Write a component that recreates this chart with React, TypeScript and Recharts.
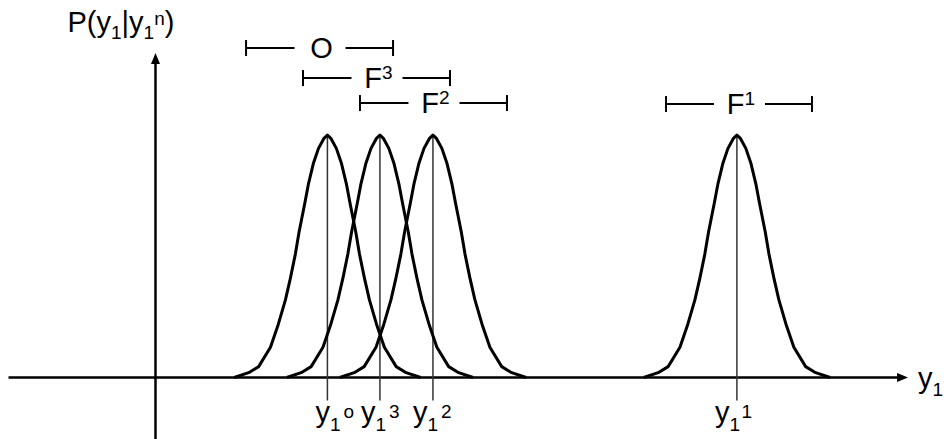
import React from "react";
import { LineChart, Line, XAxis, YAxis, ReferenceLine } from "recharts";

// one bell profile shared by all four densities: offset from the peak, relative height
const profileOffsets = [-3.55, -3.0, -2.62, -2.17, -1.87, -1.6, -1.41, -1.22, -1.08, -0.86, -0.72, -0.53, -0.34, -0.14, 0, 0.14, 0.34, 0.53, 0.72, 0.86, 1.08, 1.22, 1.41, 1.6, 1.87, 2.17, 2.62, 3.0, 3.55];
const profileHeights = [0, 0.02, 0.045, 0.125, 0.22, 0.32, 0.41, 0.51, 0.6, 0.72, 0.8, 0.885, 0.945, 0.985, 1, 0.985, 0.945, 0.885, 0.8, 0.72, 0.6, 0.51, 0.41, 0.32, 0.22, 0.125, 0.045, 0.02, 0];

// peaks y1^o, y1^3, y1^2, y1^1
const peakSups = ["o", "3", "2", "1"];
const peakCenters = [6.55, 8.55, 10.57, 22.15];

// interval bars drawn above the peaks
const intervalNames = ["O", "F", "F", "F"];
const intervalSups = ["", "3", "2", "1"];
const intervalStart = [3.45, 5.62, 7.79, 19.45];
const intervalEnd = [9.05, 11.22, 13.39, 25.01];
const intervalLevel = [1.359, 1.235, 1.132, 1.128];

// layout
const W = 944;
const H = 439;
const X_DOMAIN: [number, number] = [-5.924, 30.04];
const Y_DOMAIN: [number, number] = [-0.2536, 1.557];
const X_AXIS_FROM = -5.6;
const X_AXIS_TO = 28.67;
const Y_AXIS_TO = 1.338;
const PEAK_LINE_BOTTOM = -0.095;
const peakLabelShift = [-12, -19, -20, -22];
const FONT = '"Liberation Sans", Arial, sans-serif';
const FS = 29;
const SMALL = 19;

const curves = peakCenters.map((c) =>
  profileOffsets.map((d, i) => ({ x: c + d, y: profileHeights[i] }))
);

function arrowAxis(label?: boolean) {
  return (props: any) => {
    const { x1, y1, x2, y2 } = props;
    const len = Math.hypot(x2 - x1, y2 - y1);
    const ux = (x2 - x1) / len;
    const uy = (y2 - y1) / len;
    const head = 11;
    const half = 4.5;
    const bx = x2 - ux * head;
    const by = y2 - uy * head;
    const px = -uy * half;
    const py = ux * half;
    return (
      <g>
        <line x1={x1} y1={y1} x2={bx} y2={by} stroke="#000" strokeWidth={2.5} />
        <path d={`M${x2},${y2}L${bx + px},${by + py}L${bx - px},${by - py}Z`} fill="#000" />
        {label && (
          <text x={x2 + 10} y={y2 + 10} fontFamily={FONT} fontSize={FS} fill="#000">
            <tspan>y</tspan>
            <tspan fontSize={SMALL} dy={8}>1</tspan>
          </text>
        )}
      </g>
    );
  };
}

function peakMarker(sup: string, shift: number) {
  return (props: any) => {
    const { x1, y1, x2, y2 } = props;
    return (
      <g>
        <line x1={x1} y1={y1} x2={x2} y2={y2} stroke="#333" strokeWidth={1.5} />
        <text x={x2 + shift} y={y2 + 21} fontFamily={FONT} fontSize={FS} fill="#000">
          <tspan>y</tspan>
          <tspan fontSize={SMALL} dy={9}>1</tspan>
          <tspan fontSize={SMALL} dx={3} dy={-12.5}>{sup}</tspan>
        </text>
      </g>
    );
  };
}

function intervalBar(name: string, sup: string) {
  return (props: any) => {
    const { x1, y1, x2 } = props;
    const mid = (x1 + x2) / 2;
    return (
      <g>
        <g stroke="#000" strokeWidth={2}>
          <line x1={x1} y1={y1} x2={mid - 25} y2={y1} />
          <line x1={mid + 26} y1={y1} x2={x2} y2={y1} />
          <line x1={x1} y1={y1 - 8} x2={x1} y2={y1 + 8} />
          <line x1={x2} y1={y1 - 8} x2={x2} y2={y1 + 8} />
        </g>
        <text x={mid + 2} y={y1 + 10} textAnchor="middle" fontFamily={FONT} fontSize={FS} fill="#000">
          <tspan>{name}</tspan>
          {sup && (
            <tspan fontSize={SMALL} dy={-9}>{sup}</tspan>
          )}
        </text>
      </g>
    );
  };
}

function yAxisShape(props: any) {
  const base = arrowAxis(false)(props);
  const { x2, y2 } = props;
  return (
    <g>
      {base}
      <text x={x2 - 88} y={y2 - 21} fontFamily={FONT} fontSize={FS} fill="#000">
        <tspan>P(y</tspan>
        <tspan fontSize={SMALL} dy={7}>1</tspan>
        <tspan dy={-7}>|y</tspan>
        <tspan fontSize={SMALL} dy={7}>1</tspan>
        <tspan fontSize={SMALL} dy={-14}>n</tspan>
        <tspan dy={7}>)</tspan>
      </text>
    </g>
  );
}

export default function App() {
  return (
    <div style={{ position: "absolute", left: 0, top: 0, width: W, height: H, background: "#fff" }}>
      <LineChart width={W} height={H} margin={{ top: 0, right: 0, bottom: 0, left: 0 }}>
        <XAxis type="number" dataKey="x" domain={X_DOMAIN} allowDataOverflow hide />
        <YAxis type="number" dataKey="y" domain={Y_DOMAIN} allowDataOverflow hide />
        <ReferenceLine
          segment={[{ x: X_AXIS_FROM, y: 0 }, { x: X_AXIS_TO, y: 0 }]}
          shape={arrowAxis(true)}
        />
        <ReferenceLine
          segment={[{ x: 0, y: Y_DOMAIN[0] }, { x: 0, y: Y_AXIS_TO }]}
          shape={yAxisShape}
        />
        {peakCenters.map((c, i) => (
          <ReferenceLine
            key={`peak-${i}`}
            segment={[{ x: c, y: 1 }, { x: c, y: PEAK_LINE_BOTTOM }]}
            shape={peakMarker(peakSups[i], peakLabelShift[i])}
          />
        ))}
        {intervalNames.map((n, i) => (
          <ReferenceLine
            key={`int-${i}`}
            segment={[{ x: intervalStart[i], y: intervalLevel[i] }, { x: intervalEnd[i], y: intervalLevel[i] }]}
            shape={intervalBar(n, intervalSups[i])}
          />
        ))}
        {curves.map((pts, i) => (
          <Line
            key={`curve-${i}`}
            data={pts}
            dataKey="y"
            type="linear"
            stroke="#000"
            strokeWidth={3}
            strokeLinejoin="round"
            dot={false}
            activeDot={false}
            isAnimationActive={false}
          />
        ))}
      </LineChart>
    </div>
  );
}
